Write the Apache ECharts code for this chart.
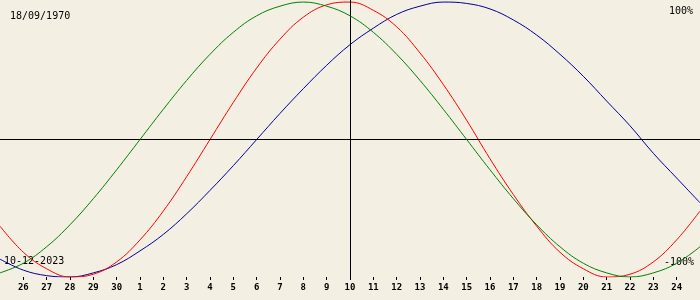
<!DOCTYPE html>
<html>
<head>
<meta charset="utf-8">
<script src="https://cdn.jsdelivr.net/npm/echarts@6/dist/echarts.min.js"></script>
<style>
html,body{margin:0;padding:0;background:#f3efe3;}
#c{width:700px;height:300px;}
</style>
</head>
<body>
<div id="c"></div>
<script>
// day offsets from 10-12-2023 (-15 .. 15)
var days = [-15,-14,-13,-12,-11,-10,-9,-8,-7,-6,-5,-4,-3,-2,-1,0,1,2,3,4,5,6,7,8,9,10,11,12,13,14,15];
// tick labels (day of month) for offsets -14 .. 14
var tickLabels = ['26','27','28','29','30','1','2','3','4','5','6','7','8','9','10','11','12','13','14','15','16','17','18','19','20','21','22','23','24'];
var physical = [-0.63,-0.82,-0.94,-1.00,-0.98,-0.89,-0.73,-0.52,-0.27,0.00,0.27,0.52,0.73,0.89,0.98,1.00,0.94,0.82,0.63,0.40,0.14,-0.14,-0.40,-0.63,-0.82,-0.94,-1.00,-0.98,-0.89,-0.73,-0.52];
var emotional = [-0.97,-0.90,-0.78,-0.62,-0.43,-0.22,0.00,0.22,0.43,0.62,0.78,0.90,0.97,1.00,0.97,0.90,0.78,0.62,0.43,0.22,0.00,-0.22,-0.43,-0.62,-0.78,-0.90,-0.97,-1.00,-0.97,-0.90,-0.78];
var intellectual = [-0.87,-0.95,-0.99,-1.00,-0.97,-0.91,-0.81,-0.69,-0.54,-0.37,-0.19,0.00,0.19,0.37,0.54,0.69,0.81,0.91,0.97,1.00,0.99,0.95,0.87,0.76,0.62,0.46,0.28,0.10,-0.10,-0.28,-0.46];
var birthDate = '18/09/1970';
var currentDate = '10-12-2023';

function pairs(v){ return days.map(function(d,i){ return [d, v[i]]; }); }

var chart = echarts.init(document.getElementById('c'), null, {renderer:'canvas'});
var font = 'DejaVu Sans Mono';
chart.setOption({
  backgroundColor: '#f3efe3',
  animation: false,
  grid: {left: 0, right: 0, top: 0, bottom: 23},
  xAxis: {
    type: 'value', min: -15, max: 15, interval: 1,
    axisLine: {show: false, onZero: false},
    axisTick: {show: true, inside: false, length: 3, lineStyle: {color: '#000', width: 1}},
    splitLine: {show: false},
    axisLabel: {
      showMinLabel: false, showMaxLabel: false, margin: 6,
      fontFamily: font, fontSize: 9, fontWeight: 'bold', color: '#000',
      formatter: function(v){ var i = Math.round(v) + 14; return (i >= 0 && i < tickLabels.length) ? tickLabels[i] : ''; }
    }
  },
  yAxis: {
    type: 'value', min: -1, max: 1.015,
    show: false
  },
  series: [
    {type:'line', data: pairs(intellectual), smooth: 0.4, showSymbol: false, lineStyle:{color:'#00009a', width:1}, z: 3},
    {type:'line', data: pairs(physical), smooth: 0.4, showSymbol: false, lineStyle:{color:'#ff0000', width:1}, z: 4},
    {type:'line', data: pairs(emotional), smooth: 0.4, showSymbol: false, lineStyle:{color:'#008000', width:1}, z: 5,
     markLine: {silent: true, symbol: 'none', label:{show:false}, lineStyle:{color:'#000', type:'solid', width:1},
       data: [{yAxis: 0}, {xAxis: 0}]}}
  ],
  graphic: [
    {type:'text', left: 10, top: 11, style:{text: birthDate, font: '10px "DejaVu Sans Mono"', fill:'#000'}},
    {type:'text', right: 7, top: 6, style:{text: '100%', font: '10px "DejaVu Sans Mono"', fill:'#000'}},
    {type:'text', left: 4, top: 256, style:{text: currentDate, font: '10px "DejaVu Sans Mono"', fill:'#000'}},
    {type:'text', right: 6, top: 257, style:{text: '-100%', font: '10px "DejaVu Sans Mono"', fill:'#000'}}
  ]
});
</script>
</body>
</html>
